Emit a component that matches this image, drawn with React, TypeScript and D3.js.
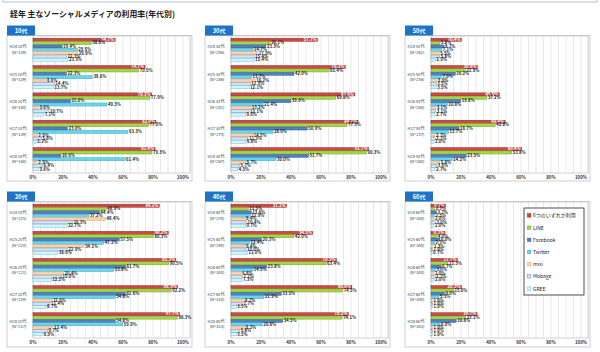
import React from "react";
import * as d3 from "d3";

const title = "経年 主なソーシャルメディアの利用率(年代別)";
const ages = ["10代", "20代", "30代", "40代", "50代", "60代"];
const years = ["H24", "H25", "H26", "H27", "H28"];
const seriesNames = ["6つのいずれか利用", "LINE", "Facebook", "Twitter", "mixi", "Mobage", "GREE"];
const xTicks = [0, 20, 40, 60, 80, 100];

const n10 = [139, 139, 140, 139, 140];
const n20 = [225, 220, 221, 219, 217];
const n30 = [286, 286, 281, 275, 267];
const n40 = [278, 290, 300, 310, 313];
const n50 = [262, 256, 260, 257, 260];
const n60 = [300, 300, 300, 300, 303];

// rows: H24..H28 ; cols: any, LINE, Facebook, Twitter, mixi, Mobage, GREE
const v10 = [
  [54.7, 38.8, 19.4, 29.5, 29.9, 22.3, 23.3],
  [74.7, 70.5, 22.3, 39.6, 8.6, 14.4, 13.7],
  [79.1, 77.9, 25.0, 49.3, 3.6, 10.7, 7.1],
  [82.0, 77.0, 23.0, 63.3, 2.9, 5.6, 2.2],
  [81.4, 79.3, 18.6, 61.4, 2.9, 6.4, 3.6],
];
const v20 = [
  [84.2, 48.9, 44.4, 37.2, 48.4, 26.3, 22.7],
  [90.2, 80.3, 57.5, 47.1, 34.1, 22.9, 16.6],
  [95.3, 90.5, 61.7, 53.8, 20.4, 19.0, 12.2],
  [96.3, 92.2, 61.6, 54.8, 12.6, 11.4, 8.7],
  [97.7, 96.3, 54.8, 59.9, 13.4, 9.7, 6.5],
];
const v30 = [
  [57.7, 26.1, 23.3, 14.7, 17.9, 15.4, 15.4],
  [76.2, 65.4, 42.0, 13.7, 16.2, 12.9, 12.1],
  [82.6, 69.8, 39.9, 21.4, 13.2, 12.1, 9.6],
  [84.7, 77.3, 50.9, 28.0, 14.5, 11.3, 9.8],
  [91.7, 90.3, 51.7, 30.0, 9.7, 5.7, 4.5],
];
const v40 = [
  [37.1, 11.5, 13.6, 12.9, 9.4, 10.4, 9.7],
  [54.5, 42.0, 20.3, 12.4, 9.4, 10.0, 11.0],
  [70.3, 63.4, 23.8, 14.5, 6.8, 7.7, 7.3],
  [80.6, 74.5, 33.5, 21.9, 8.7, 7.7, 3.5],
  [78.2, 74.1, 34.5, 20.8, 9.2, 5.8, 3.5],
];
const v50 = [
  [20.4, 5.8, 8.7, 7.1, 5.5, 5.8, 2.9],
  [30.9, 22.9, 16.2, 7.0, 3.9, 3.5, 3.5],
  [45.5, 37.2, 19.8, 10.8, 3.1, 3.1, 2.7],
  [49.4, 42.8, 18.7, 11.7, 2.7, 2.7, 2.0],
  [60.4, 53.8, 23.5, 14.2, 5.8, 3.8, 2.7],
];
const v60 = [
  [9.7, 2.3, 3.7, 2.3, 2.0, 3.0, 2.0],
  [9.3, 4.0, 6.0, 2.3, 1.3, 1.0, 0.7],
  [17.7, 11.3, 6.7, 3.0, 2.0, 2.7, 2.0],
  [20.3, 15.0, 9.0, 5.3, 1.0, 1.0, 1.0],
  [30.7, 23.1, 16.8, 6.0, 1.0, 1.0, 1.0],
];

const fills = ["#cc4a44", "#a5d648", "#4f81bd", "#6dd3ec", "#fbd1ab", "#d2e2f4", "#d6f3fa"];
const strokes = ["#8c1d18", "#6f9b22", "#2f5b90", "#2ca5c4", "#e3a068", "#5f88bf", "#5cc0d8"];

const panelValues = [v10, v20, v30, v40, v50, v60];
const panelN = [n10, n20, n30, n40, n50, n60];

const FONT = "'Noto Sans CJK JP', 'Noto Sans', sans-serif";

function Panel({ idx }: { idx: number }) {
  const col = Math.floor(idx / 2);
  const row = idx % 2;
  const ox = [7, 205, 405][col];
  const tabTop = row === 0 ? 25.5 : 191.5;
  const plotTop = row === 0 ? 36 : 202;
  const plotBottom = row === 0 ? 173 : 338;
  const boxBottom = row === 0 ? 181 : 347;
  const x = d3.scaleLinear().domain([0, 100]).range([ox + 26, ox + 176]);
  const plotRight = ox + 183;
  const yG = d3.scaleBand<string>().domain(years).range([plotTop, plotBottom]).paddingInner(0.15).paddingOuter(0.08);
  const yS = d3.scaleBand<string>().domain(seriesNames).range([0, yG.bandwidth()]).paddingInner(0.08);
  const grid = d3.range(0, 105.1, 5);
  const vals = panelValues[idx];
  const ns = panelN[idx];
  const age = ages[idx];
  return (
    <g>
      <rect x={ox} y={tabTop + 10} width={185} height={boxBottom - tabTop - 10} fill="#fff" stroke="#c4c4c4" strokeWidth={0.8} />
      <rect x={ox} y={tabTop} width={28} height={10} fill="#1f72c4" />
      <text x={ox + 14} y={tabTop + 7.3} textAnchor="middle" fontSize={5.8} fontWeight="bold" fill="#fff" fontFamily={FONT}>{age}</text>
      <rect x={x(0)} y={plotTop} width={plotRight - x(0)} height={plotBottom - plotTop} fill="#fff" stroke="#bdbdbd" strokeWidth={0.7} />
      {grid.map((g) => (
        <line key={g} x1={x(g)} x2={x(g)} y1={plotTop} y2={plotBottom} stroke="#d9d9d9" strokeWidth={0.6} />
      ))}
      {xTicks.map((t) => (
        <text key={t} x={x(t)} y={plotBottom + 5.5} textAnchor="middle" fontSize={4.4} fontWeight="bold" fill="#333" fontFamily={FONT}>{t}%</text>
      ))}
      {years.map((yr, gi) => {
        const gy = yG(yr)!;
        const cy = gy + yG.bandwidth() / 2;
        return (
          <g key={yr}>
            <text x={ox + 19.5} y={cy - 1.5} textAnchor="end" fontSize={4.1} fill="#333" fontFamily={FONT}>{`${yr} ${age}`}</text>
            <text x={ox + 19.5} y={cy + 4.2} textAnchor="end" fontSize={4.1} fill="#333" fontFamily={FONT}>{`(N=${ns[gi]})`}</text>
            {seriesNames.map((s, si) => {
              const v = vals[gi][si];
              const by = gy + yS(s)!;
              const bh = yS.bandwidth();
              return (
                <g key={s}>
                  <rect x={x(0)} y={by} width={x(v) - x(0)} height={bh} fill={fills[si]} stroke={strokes[si]} strokeWidth={0.45} />
                  {si === 0 ? (
                    <text x={x(v) - 1} y={by + bh - 0.4} textAnchor="end" fontSize={4.2} fontWeight="bold" fill="#fff" fontFamily={FONT}>{v.toFixed(1)}%</text>
                  ) : (
                    <text x={x(v) + 1} y={by + bh - 0.2} textAnchor="start" fontSize={4.2} fontWeight="bold" fill="#222" fontFamily={FONT}>{v.toFixed(1)}%</text>
                  )}
                </g>
              );
            })}
          </g>
        );
      })}
    </g>
  );
}

function Legend() {
  const lx = 524, ly = 208, lw = 60, lh = 87;
  return (
    <g>
      <rect x={lx} y={ly} width={lw} height={lh} fill="#fff" stroke="#222" strokeWidth={0.8} />
      {seriesNames.map((s, i) => {
        const cy = ly + 7.5 + i * 12.2;
        return (
          <g key={s}>
            <rect x={lx + 3.5} y={cy - 1.8} width={3.4} height={3.4} fill={fills[i]} stroke={strokes[i]} strokeWidth={0.5} />
            <text x={lx + 9} y={cy + 1.8} fontSize={5} fill="#222" fontFamily={FONT}>{s}</text>
          </g>
        );
      })}
    </g>
  );
}

export default function App() {
  return (
    <svg width={600} height={352} style={{ position: "absolute", left: 0, top: 0, background: "#fff" }}>
      <rect x={0} y={0} width={600} height={352} fill="#fff" />
      <rect x={3} y={-6} width={594} height={8} fill="none" stroke="#9fb0c2" strokeWidth={0.8} />
      <text x={10} y={16.5} fontSize={7.9} fontWeight="bold" fill="#222" fontFamily={FONT}>{title}</text>
      {ages.map((a, i) => (
        <Panel key={a} idx={i} />
      ))}
      <Legend />
    </svg>
  );
}
